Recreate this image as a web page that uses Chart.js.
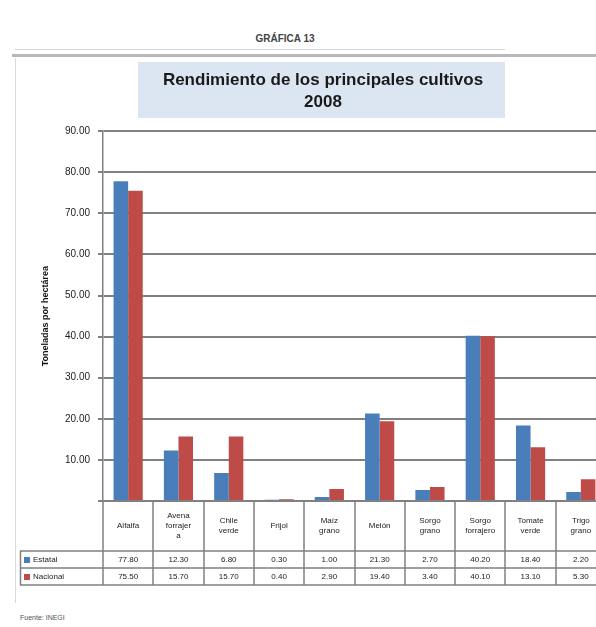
<!DOCTYPE html>
<html>
<head>
<meta charset="utf-8">
<script src="https://cdn.jsdelivr.net/npm/chart.js@4.4.1/dist/chart.umd.min.js"></script>
<style>
  body { margin: 0; width: 596px; height: 627px; overflow: hidden; background: #fff; font-family: "Liberation Sans", Arial, sans-serif; position: relative; }
  #head { position: absolute; top: 33px; left: 235px; width: 100px; text-align: center; font-size: 10px; font-weight: bold; color: #444; }
  .rule1 { position: absolute; top: 49px; left: 15px; width: 490px; height: 1px; background: #d6d6d6; }
  .rule2 { position: absolute; top: 54px; left: 12px; width: 584px; height: 3px; background: #b8b8b8; }
  .side { position: absolute; top: 58px; left: 15px; width: 1px; height: 545px; background: #d8d8d8; }
  #foot { position: absolute; top: 614px; left: 20px; font-size: 7px; color: #555; }
  #wrap { position: absolute; left: 0; top: 58px; width: 620px; height: 545px; }
</style>
</head>
<body>
<div id="head">GRÁFICA 13</div>
<div class="rule1"></div>
<div class="rule2"></div>
<div class="side"></div>
<div id="wrap"><canvas id="chart" width="620" height="545"></canvas></div>
<div id="foot">Fuente: INEGI</div>
<script>
const categories = [
  ["Alfalfa"], ["Avena", "forrajer", "a"], ["Chile", "verde"], ["Frijol"], ["Maíz", "grano"],
  ["Melón"], ["Sorgo", "grano"], ["Sorgo", "forrajero"], ["Tomate", "verde"], ["Trigo", "grano"]
];
const seriesNames = ["Estatal", "Nacional"];
const estatal = [77.8, 12.3, 6.8, 0.3, 1.0, 21.3, 2.7, 40.2, 18.4, 2.2];
const nacional = [75.5, 15.7, 15.7, 0.4, 2.9, 19.4, 3.4, 40.1, 13.1, 5.3];
const colors = ["#4a7ebb", "#be4b48"];

const lineColor = "#808080";
const font = "'Liberation Sans', Arial, sans-serif";

// light blue box behind the title
const titleBox = {
  id: "titleBox",
  beforeDraw(chart) {
    const ctx = chart.ctx;
    ctx.save();
    ctx.fillStyle = "#dce6f2";
    ctx.fillRect(138, 4, 367, 56);
    ctx.restore();
  }
};

// data table under the plot
const dataTable = {
  id: "dataTable",
  afterDraw(chart) {
    const ctx = chart.ctx;
    const area = chart.chartArea;
    const xs = chart.scales.x;
    const half = (xs.getPixelForValue(1) - xs.getPixelForValue(0)) / 2;
    const labelBottom = area.bottom + 50;
    const row1 = labelBottom + 17;
    const row2 = row1 + 17;
    const right = chart.width;

    ctx.save();
    ctx.strokeStyle = lineColor;
    ctx.lineWidth = 1.5;
    ctx.beginPath();
    [labelBottom, row1, row2].forEach(y => {
      ctx.moveTo(20, y);
      ctx.lineTo(right, y);
    });
    ctx.moveTo(20.5, labelBottom);
    ctx.lineTo(20.5, row2);
    for (let i = 0; i <= categories.length; i++) {
      const x = Math.round(xs.getPixelForValue(i) - half);
      ctx.moveTo(x, area.bottom);
      ctx.lineTo(x, row2);
    }
    ctx.stroke();

    ctx.fillStyle = "#222";
    ctx.font = "8px " + font;
    ctx.textAlign = "center";
    ctx.textBaseline = "middle";
    const mid = (area.bottom + labelBottom) / 2;
    categories.forEach((lines, i) => {
      const x = xs.getPixelForValue(i);
      const lh = 10;
      const y0 = mid - (lines.length - 1) * lh / 2;
      lines.forEach((t, k) => ctx.fillText(t, x, y0 + k * lh));
      ctx.fillText(estatal[i].toFixed(2), x, labelBottom + 9);
      ctx.fillText(nacional[i].toFixed(2), x, row1 + 9);
    });

    ctx.textAlign = "left";
    [labelBottom, row1].forEach((y, k) => {
      ctx.fillStyle = colors[k];
      ctx.fillRect(24, y + 6, 6, 6);
      ctx.fillStyle = "#222";
      ctx.fillText(seriesNames[k], 33, y + 9);
    });
    ctx.restore();
  }
};

new Chart(document.getElementById("chart"), {
  type: "bar",
  data: {
    labels: categories.map(c => c.join(" ")),
    datasets: [
      { label: seriesNames[0], data: estatal, backgroundColor: colors[0] },
      { label: seriesNames[1], data: nacional, backgroundColor: colors[1] }
    ]
  },
  options: {
    responsive: false,
    devicePixelRatio: 1,
    animation: false,
    layout: { padding: { left: 40, right: 14, top: 0, bottom: 18 } },
    datasets: { bar: { categoryPercentage: 0.58, barPercentage: 1.0 } },
    plugins: {
      legend: { display: false },
      tooltip: { enabled: false },
      title: {
        display: true,
        text: ["Rendimiento de los principales cultivos", "2008"],
        color: "#1a1a1a",
        font: { family: font, size: 17, weight: "bold", lineHeight: 1.3 },
        padding: { top: 11, bottom: 18 }
      }
    },
    scales: {
      x: {
        ticks: { display: false },
        grid: { display: false },
        border: { color: lineColor, width: 1.5 },
        afterFit: s => { s.height = 84; }
      },
      y: {
        min: 0,
        max: 90,
        ticks: {
          stepSize: 10,
          color: "#222",
          padding: 8,
          font: { family: font, size: 10 },
          callback: v => v === 0 ? "" : v.toFixed(2)
        },
        grid: { color: lineColor, lineWidth: 2, tickLength: 5 },
        border: { color: lineColor, width: 1.5 },
        title: {
          display: true,
          text: "Toneladas por hectárea",
          color: "#111",
          font: { family: font, size: 9, weight: "bold" },
          padding: 0
        },
        afterFit: s => { s.width = 63; }
      }
    }
  },
  plugins: [titleBox, dataTable]
});
</script>
</body>
</html>
